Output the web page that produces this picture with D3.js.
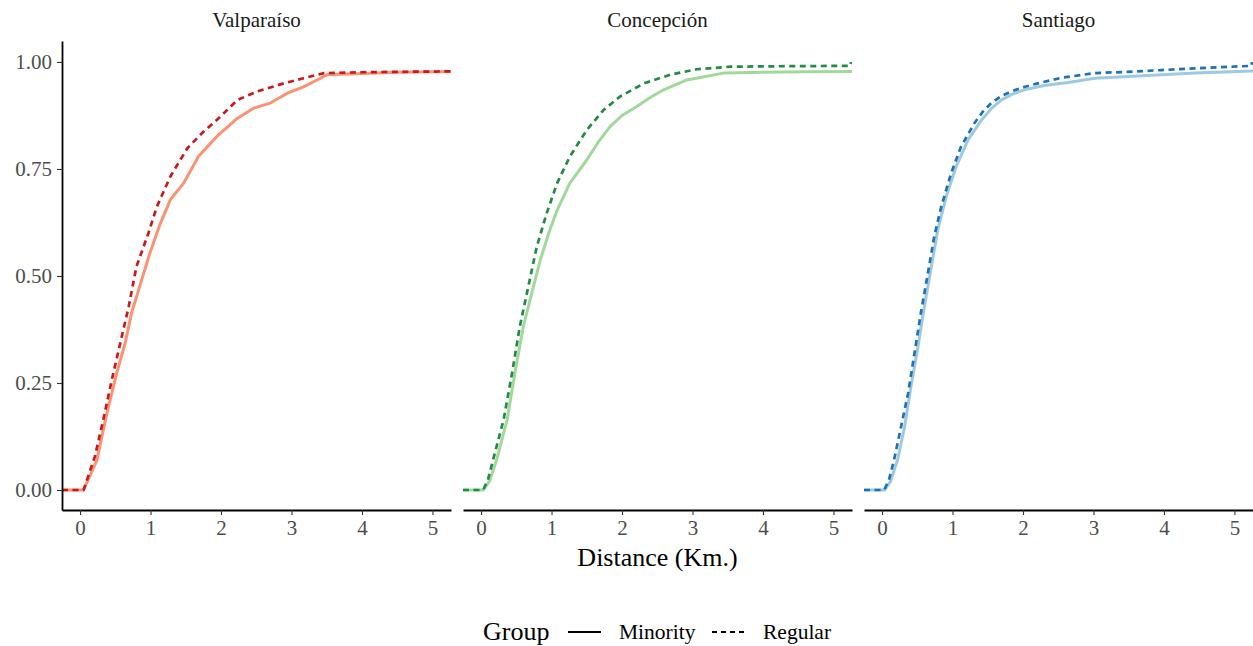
<!DOCTYPE html>
<html>
<head>
<meta charset="utf-8">
<script src="https://cdn.jsdelivr.net/npm/d3@7"></script>
<style>
  body { margin: 0; background: #fff; }
  svg, svg text { font-family: "Liberation Serif", "DejaVu Serif", serif; }
  .axis text { fill: #4d4d4d; font-size: 21px; font-family: "Liberation Serif", serif; }
  .axis .tick line { stroke: #333; stroke-width: 1.1; }
  .axis .domain { stroke: #000; stroke-width: 1.8; }
</style>
</head>
<body>
<div id="chart"></div>
<script>
// facets and groups
const cities = ["Valparaíso", "Concepción", "Santiago"];
const groups = ["Minority", "Regular"];
const xTicks = [0, 1, 2, 3, 4, 5];
const yTicks = [0, 0.25, 0.5, 0.75, 1];

// ECDF readings, distance in km -> cumulative share
const valpMinorityKm    = [0.05, 0.24, 0.38, 0.52, 0.64, 0.73, 0.83, 0.99, 1.14, 1.28, 1.47, 1.68, 1.94, 2.23, 2.46, 2.70, 2.94, 3.17, 3.41, 3.50, 4.0, 4.5, 5.3];
const valpMinorityShare = [0, 0.07, 0.179, 0.273, 0.343, 0.413, 0.467, 0.553, 0.623, 0.678, 0.717, 0.779, 0.826, 0.868, 0.892, 0.904, 0.927, 0.942, 0.962, 0.970, 0.973, 0.976, 0.978];
const valpRegularKm     = [0.05, 0.21, 0.33, 0.45, 0.57, 0.69, 0.80, 0.97, 1.09, 1.28, 1.52, 1.75, 1.99, 2.23, 2.51, 2.89, 3.17, 3.46, 4.0, 4.5, 5.3];
const valpRegularShare  = [0, 0.078, 0.164, 0.257, 0.343, 0.428, 0.522, 0.60, 0.662, 0.732, 0.798, 0.837, 0.872, 0.911, 0.931, 0.950, 0.962, 0.974, 0.976, 0.977, 0.978];

const concMinorityKm    = [0.03, 0.12, 0.22, 0.37, 0.48, 0.60, 0.72, 0.84, 0.96, 1.08, 1.26, 1.50, 1.66, 1.83, 2.00, 2.21, 2.40, 2.59, 2.92, 3.44, 4.0, 4.6, 5.3];
const concMinorityShare = [0, 0.02, 0.07, 0.164, 0.273, 0.382, 0.46, 0.537, 0.60, 0.654, 0.717, 0.771, 0.812, 0.849, 0.875, 0.896, 0.917, 0.935, 0.958, 0.974, 0.976, 0.977, 0.978];
const concRegularKm     = [0.03, 0.10, 0.17, 0.32, 0.44, 0.55, 0.67, 0.79, 0.93, 1.08, 1.26, 1.50, 1.74, 1.97, 2.31, 2.68, 3.06, 3.54, 4.2, 5.24, 5.25];
const concRegularShare  = [0, 0.025, 0.07, 0.164, 0.273, 0.382, 0.475, 0.568, 0.646, 0.717, 0.779, 0.841, 0.888, 0.919, 0.950, 0.970, 0.983, 0.989, 0.990, 0.991, 1.0];

const santMinorityKm    = [0.04, 0.12, 0.22, 0.32, 0.41, 0.51, 0.60, 0.70, 0.79, 0.91, 1.05, 1.22, 1.41, 1.55, 1.69, 1.85, 2.02, 2.30, 2.64, 3.02, 3.7, 4.44, 5.3];
const santMinorityShare = [0, 0.02, 0.07, 0.148, 0.241, 0.335, 0.428, 0.522, 0.607, 0.685, 0.755, 0.818, 0.864, 0.891, 0.911, 0.925, 0.935, 0.945, 0.952, 0.962, 0.968, 0.974, 0.979];
const santRegularKm     = [0.03, 0.10, 0.17, 0.27, 0.37, 0.46, 0.55, 0.65, 0.74, 0.84, 0.98, 1.12, 1.31, 1.43, 1.55, 1.69, 1.83, 2.00, 2.21, 2.54, 3.02, 3.49, 3.96, 4.44, 5.24, 5.25];
const santRegularShare  = [0, 0.025, 0.07, 0.148, 0.226, 0.319, 0.413, 0.506, 0.592, 0.662, 0.74, 0.802, 0.857, 0.884, 0.904, 0.920, 0.931, 0.941, 0.950, 0.963, 0.974, 0.977, 0.981, 0.985, 0.991, 1.0];

const palette = {
    "Valparaíso": ["#fc9272", "#cb181d"],
    "Concepción": ["#a1d99b", "#238b45"],
    "Santiago":   ["#9ecae1", "#2171b5"],
};

const zip = (xs, ys) => xs.map((x, i) => [x, ys[i]]);
const series = {
    "Valparaíso": [zip(valpMinorityKm, valpMinorityShare), zip(valpRegularKm, valpRegularShare)],
    "Concepción": [zip(concMinorityKm, concMinorityShare), zip(concRegularKm, concRegularShare)],
    "Santiago":   [zip(santMinorityKm, santMinorityShare), zip(santRegularKm, santRegularShare)],
};

const width = 1253, height = 646;
const margin = {top: 41, right: 0, bottom: 136, left: 62};
const gap = 12;
const panelW = (width - margin.left - margin.right - gap * 2) / 3;
const innerH = height - margin.top - margin.bottom;

const xScale = d3.scaleLinear().domain([-0.256, 5.263]).range([0, panelW]);
const yScale = d3.scaleLinear().domain([-0.0467, 1.049]).range([innerH, 0]);

const lineFn = d3.line()
    .x(d => xScale(d[0]))
    .y(d => yScale(d[1]));

const svg = d3.select("#chart").append("svg")
    .attr("width", width)
    .attr("height", height);

cities.forEach((city, i) => {
    const g = svg.append("g")
        .attr("transform", `translate(${margin.left + i * (panelW + gap)}, ${margin.top})`);

    const clipID = "clip-" + i;
    g.append("clipPath").attr("id", clipID)
        .append("rect").attr("width", panelW).attr("height", innerH);

    // strip title
    g.append("text")
        .attr("x", panelW / 2).attr("y", -14)
        .attr("text-anchor", "middle")
        .style("font-size", "21px").style("fill", "#1a1a1a")
        .text(city);

    const data = g.append("g").attr("clip-path", `url(#${clipID})`);
    series[city].forEach((pts, k) => {
        // ecdf pads from the left edge of the panel
        const padded = [[xScale.domain()[0], 0], ...pts];
        data.append("path")
            .attr("d", lineFn(padded))
            .attr("fill", "none")
            .attr("stroke", palette[city][k])
            .attr("stroke-width", k === 0 ? 3 : 2.7)
            .attr("stroke-linejoin", "round")
            .attr("stroke-dasharray", k === 0 ? null : "6,4.5");
    });

    g.append("g").classed("axis", true)
        .attr("transform", `translate(0, ${innerH})`)
        .call(d3.axisBottom(xScale).tickValues(xTicks).tickFormat(d3.format("d"))
            .tickSize(5).tickSizeOuter(0).tickPadding(5))
        .attr("font-family", null);

    if (i === 0) {
        g.append("g").classed("axis", true)
            .call(d3.axisLeft(yScale).tickValues(yTicks).tickFormat(d3.format(".2f"))
                .tickSize(5).tickSizeOuter(0).tickPadding(5))
            .attr("font-family", null);
    }
});

// x axis title
svg.append("text")
    .attr("x", margin.left + (width - margin.left - margin.right) / 2)
    .attr("y", 566)
    .attr("text-anchor", "middle")
    .style("font-size", "26px").style("fill", "#000")
    .text("Distance (Km.)");

// legend
const legend = svg.append("g").attr("transform", "translate(483, 632)");
legend.append("text").attr("x", 0).attr("y", 8)
    .style("font-size", "26px").text("Group");
const keyX = [85, 229];
groups.forEach((grp, k) => {
    legend.append("line")
        .attr("x1", keyX[k]).attr("x2", keyX[k] + 33)
        .attr("y1", 0).attr("y2", 0)
        .attr("stroke", "#000").attr("stroke-width", 2)
        .attr("stroke-dasharray", k === 0 ? null : "5,4");
    legend.append("text")
        .attr("x", keyX[k] + 51).attr("y", 7)
        .style("font-size", "21.5px").text(grp);
});
</script>
</body>
</html>
